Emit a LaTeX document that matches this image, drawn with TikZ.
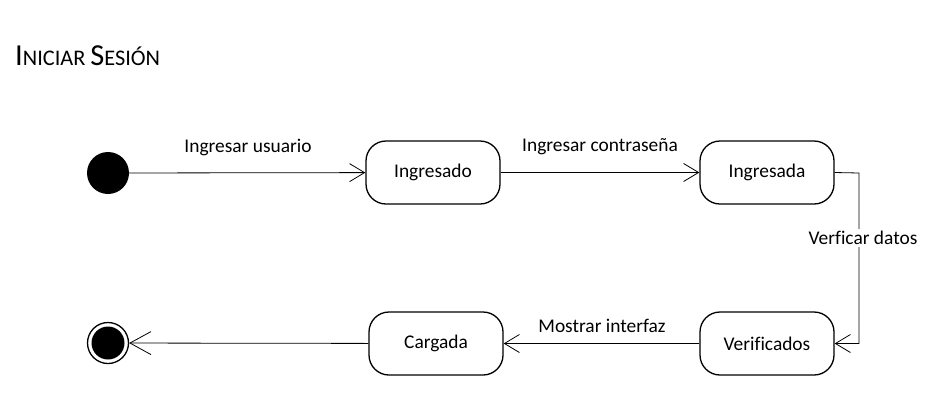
\documentclass[tikz,border=0pt]{standalone}
\usepackage{fontspec}
\setmainfont[Ligatures=NoCommon]{Carlito}
\usetikzlibrary{arrows.meta}
\begin{document}
\begin{tikzpicture}[x=1pt,y=-1pt,
  state/.style={draw,line width=1.3pt,rounded corners=20pt,minimum width=134pt,minimum height=63pt,inner sep=0pt,font=\fontsize{19.4}{22}\selectfont},
  lbl/.style={font=\fontsize{19.4}{22}\selectfont,inner sep=0pt},
  tr/.style={line width=0.8pt,-{Straight Barb[length=15pt,width=18pt,line width=0.8pt]}},
  trf/.style={line width=0.8pt,-{Straight Barb[length=21pt,width=23pt,line width=0.8pt]}}]
\useasboundingbox (0,0) rectangle (947,400);
\node[anchor=base west,inner sep=0pt] (title) at (15,65) {{\fontsize{30.5}{32}\selectfont I}{\fontsize{22.3}{24}\selectfont NICIAR}\hspace{5pt}{\fontsize{30.5}{32}\selectfont S}{\fontsize{22.3}{24}\selectfont ESIÓN}};
\node[circle,fill=black,minimum size=42pt,inner sep=0pt] (init) at (108,173) {};
\node[state] (ingresado) at (433,172.5) {Ingresado};
\node[state] (ingresada) at (767,172.5) {Ingresada};
\node[state] (verificados) at (767,343.5) {Verificados};
\node[state] (cargada) at (436,343.5) {Cargada};
\node[circle,draw,line width=1.3pt,minimum size=41pt,inner sep=0pt] (final) at (108,343) {};
\node[circle,fill=black,minimum size=33pt,inner sep=0pt] (finalin) at (final.center) {};
\coordinate (c1) at (859,173);
\coordinate (c2) at (859,343.5);
\draw[tr] (init) -- (ingresado);
\draw[tr] (ingresado) -- (ingresada);
\draw[tr] (ingresada.east) -- (c1) -- (c2) -- (verificados.east);
\draw[tr] (verificados) -- (cargada);
\draw[trf] (cargada) -- (final);
\node[lbl] (l1) at (248,147) {Ingresar usuario};
\node[lbl] (l2) at (600,147) {Ingresar contraseña};
\node[lbl,fill=white,inner sep=2pt] (l3) at (863,238) {Verficar datos};
\node[lbl] (l4) at (602,326) {Mostrar interfaz};
\end{tikzpicture}
\end{document}
